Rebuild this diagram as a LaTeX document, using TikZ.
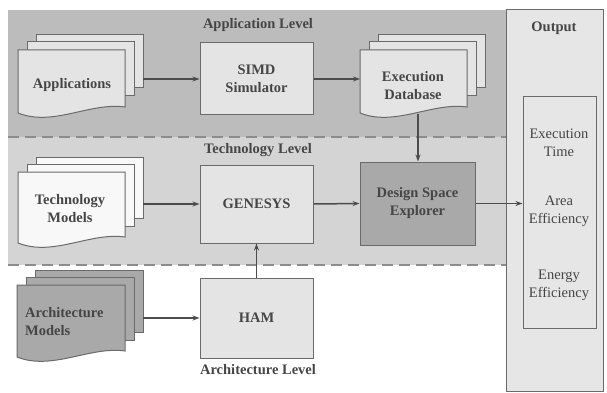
\documentclass[tikz,border=0pt]{standalone}
\usepackage{fontspec}
\setmainfont{Liberation Serif}
\usetikzlibrary{arrows.meta}
\definecolor{txt}{HTML}{454545}
\definecolor{edge}{HTML}{6A6A6A}
\definecolor{appband}{HTML}{BCBCBC}
\definecolor{techband}{HTML}{D4D4D4}
\definecolor{lightbox}{HTML}{E4E4E4}
\definecolor{darkbox}{HTML}{A9A9A9}
\definecolor{whitebox}{HTML}{F8F8F8}
\definecolor{outfill}{HTML}{E6E6E6}
\tikzset{
  lbl/.style={text=txt,font=\fontsize{14.5}{18}\selectfont\bfseries,align=center,inner sep=0pt},
  plain/.style={text=txt,font=\fontsize{14.5}{18}\selectfont,align=center,inner sep=0pt},
  procbox/.style={draw=edge,line width=1pt,text=txt,font=\fontsize{14.5}{18}\selectfont\bfseries,align=center,inner sep=0pt},
  sheet/.style={draw=edge,line width=1pt},
  arr/.style={draw=black!70,line width=1.5pt,-{Stealth[length=7pt,width=5pt]}},
  levelline/.style={draw=black!45,line width=2pt,dash pattern=on 11pt off 6pt},
}
% name, x1, y1, x2, y2 (front page), fill
\newcommand{\docstack}[6]{%
  \draw[sheet,fill=#6] ({#2+18},{#3-15}) rectangle ({#4+18},{#5-30});
  \draw[sheet,fill=#6] ({#2+9},{#3-8}) rectangle ({#4+9},{#5-22});
  \draw[sheet,fill=#6] (#2,#3) -- (#4,#3) -- ({#4},{#5-11})
     .. controls ({#4-35},{#5-16}) and ({#2+35},{#5+9}) .. ({#2},{#5-5}) -- cycle;
  \coordinate (#1R) at ({#4+18},{(#3+#5)/2});
  \coordinate (#1L) at ({#2},{(#3+#5)/2});
}
\begin{document}
\begin{tikzpicture}[x=1pt,y=-1pt]
\useasboundingbox (0,0) rectangle (607,393);
% bands
\fill[appband] (8,10) rectangle (506,137);
\fill[techband] (8,137) rectangle (506,265);
\draw[levelline] (8,137) -- (506,137);
\draw[levelline] (8,265) -- (506,265);
% output
\draw[sheet,fill=outfill] (506,10) rectangle (603,391);
\node[procbox,fill=outfill,minimum width=73pt,minimum height=231pt] (inner) at (559.5,212.5) {};
\node[lbl] (outlbl) at (554,28) {Output};
\node[plain] (exectime) at (559,143) {Execution\\Time};
\node[plain] (areaeff) at (559,211) {Area\\Efficiency};
\node[plain] (energyeff) at (559,285) {Energy\\Efficiency};
% level labels
\node[lbl] (applvl) at (258,25) {Application Level};
\node[lbl] (techlvl) at (258,150) {Technology Level};
\node[lbl] (archlvl) at (258,370) {Architecture Level};
% documents
\docstack{apps}{18}{50}{125}{118}{lightbox}
\node[lbl] (apps) at (72,85) {Applications};
\docstack{execdb}{360}{50}{467}{118}{lightbox}
\node[lbl] (execdb) at (413,86) {Execution\\Database};
\coordinate (execdbB) at (418,114);
\docstack{techm}{18}{172}{125}{248}{whitebox}
\node[lbl] (techm) at (70,209) {Technology\\Models};
\docstack{archm}{17}{285}{125}{362}{darkbox}
\node[lbl,align=left,anchor=west] (archm) at (25,322) {Architecture\\Models};
% process boxes
\node[procbox,fill=lightbox,minimum width=113pt,minimum height=72pt] (simd) at (256.5,79) {SIMD\\Simulator};
\node[procbox,fill=lightbox,minimum width=113pt,minimum height=78pt] (gen) at (256.5,204) {GENESYS};
\node[procbox,fill=lightbox,minimum width=113pt,minimum height=80pt] (ham) at (256.5,318) {HAM};
\node[procbox,fill=darkbox,minimum width=115pt,minimum height=83pt] (dse) at (417.5,203.5) {Design Space\\Explorer};
% connectors
\draw[arr] (appsR |- simd.west) -- (simd.west);
\draw[arr] (simd.east) -- (simd.east -| execdbL);
\draw[arr] (execdbB) -- (execdbB |- dse.north);
\draw[arr] (techmR |- gen.west) -- (gen.west);
\draw[arr] (gen.east) -- (dse.west);
\draw[arr] (archmR |- ham.west) -- (ham.west);
\draw[arr] (ham.north) -- (gen.south);
\draw[arr] (dse.east) -- (dse.east -| inner.west);
\end{tikzpicture}
\end{document}
